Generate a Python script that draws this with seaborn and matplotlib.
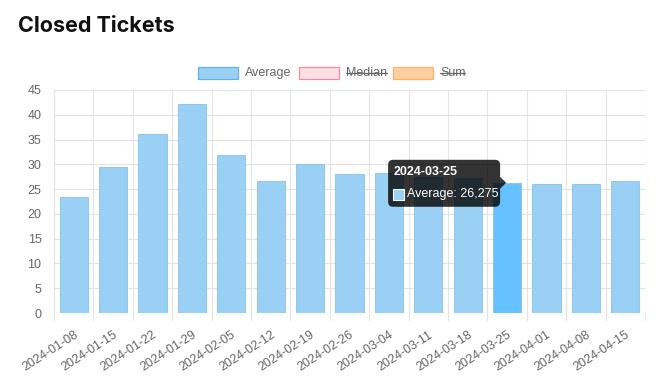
import matplotlib
matplotlib.use("Agg")
import matplotlib.pyplot as plt
import matplotlib.transforms as mtrans
from matplotlib.patches import Rectangle, FancyBboxPatch, Polygon
from matplotlib.lines import Line2D
import seaborn as sns

# data
weeks = ['2024-01-08', '2024-01-15', '2024-01-22', '2024-01-29', '2024-02-05',
         '2024-02-12', '2024-02-19', '2024-02-26', '2024-03-04', '2024-03-11',
         '2024-03-18', '2024-03-25', '2024-04-01', '2024-04-08', '2024-04-15']
average = [23.4, 29.4, 36.1, 42.1, 31.8, 26.6, 30.1, 28.0, 28.2, 27.4,
           27.3, 26.275, 26.0, 26.0, 26.6]
legend_labels = ['Average', 'Median', 'Sum']
legend_fill = ['#9bd0f5', '#ffe0e6', '#ffcf9f']
legend_edge = ['#5fb3ea', '#f38aa0', '#ffb366']
hidden = [False, True, True]
hover_week = '2024-03-25'

BAR = '#9bd0f5'
BAR_EDGE = '#86c2ec'
HOVER = '#66c2ff'
GRID = '#e3e3e3'
TXT = '#666666'

sns.set_style("white")
plt.rcParams['font.family'] = ['Liberation Sans', 'DejaVu Sans']

fig = plt.figure(figsize=(6.61, 3.89), dpi=100)
W, H = 661, 389
ax = fig.add_axes([54 / W, 1 - 313 / H, 591 / W, 223 / H])

colors = [HOVER if w == hover_week else BAR for w in weeks]
sns.barplot(x=weeks, y=average, hue=weeks, palette=colors, legend=False,
            width=0.72, edgecolor=BAR_EDGE, linewidth=0.6, saturation=1, ax=ax)

ax.set_xlim(-0.5, len(weeks) - 0.5)
ax.set_ylim(0, 45)
ax.set_yticks(range(0, 50, 5))
ax.set_xlabel('')
ax.set_ylabel('')

# chart.js style grid: vertical lines on category edges
for i in range(len(weeks) + 1):
    ax.axvline(i - 0.5, color=GRID, lw=0.8, zorder=0)
    ax.plot([i - 0.5, i - 0.5], [0, -0.03], color=GRID, lw=0.8,
            transform=ax.get_xaxis_transform(), clip_on=False)
for y in range(0, 50, 5):
    ax.axhline(y, color=GRID if y else '#c8c8c8', lw=0.8, zorder=0)
for s in ax.spines.values():
    s.set_visible(False)

ax.tick_params(axis='y', length=6, color=GRID, labelcolor=TXT, labelsize=9, pad=3)
ax.tick_params(axis='x', length=0, labelcolor=TXT, labelsize=9, pad=2)
ax.set_xticks(range(len(weeks)))
ax.set_xticklabels(weeks, rotation=33, ha='right', rotation_mode='anchor', va='top')
shift = mtrans.ScaledTranslation(0.0, -0.13, fig.dpi_scale_trans)
for lab in ax.get_xticklabels():
    lab.set_transform(lab.get_transform() + shift)

# title
fig.text(18 / W, 1 - 26 / H, 'Closed Tickets', fontsize=15.5, fontweight='bold',
         family=['Inter', 'DejaVu Sans'], color='#111111', va='center', ha='left')

# legend at top, hidden datasets struck through
fig.canvas.draw()
renderer = fig.canvas.get_renderer()
box_x = [198, 299, 393]
for lbl, fc, ec, hid, bx in zip(legend_labels, legend_fill, legend_edge, hidden, box_x):
    fig.patches.append(Rectangle((bx / W, 1 - 79 / H), 40 / W, 12 / H, facecolor=fc,
                                 edgecolor=ec, lw=0.9, transform=fig.transFigure))
    t = fig.text((bx + 47) / W, 1 - 73 / H, lbl, fontsize=9, color=TXT,
                 va='center', ha='left')
    if hid:
        bb = t.get_window_extent(renderer).transformed(fig.transFigure.inverted())
        ymid = (bb.y0 + bb.y1) / 2
        fig.lines.append(Line2D([bb.x0, bb.x1], [ymid, ymid], color=TXT, lw=0.9,
                                transform=fig.transFigure))

# hover tooltip, placed in pixels relative to the hovered bar's top
hi = weeks.index(hover_week)
hv = average[hi]
base = ax.transData.transform((hi, hv))
bx0 = base[0] - 119
by0 = base[1] - 24
fig.patches.append(FancyBboxPatch((bx0, by0), 112, 47, boxstyle='round,pad=0,rounding_size=5',
                                  facecolor='black', alpha=0.8, edgecolor='none',
                                  transform=None))
fig.patches.append(Polygon([[bx0 + 112, base[1] + 6], [bx0 + 112, base[1] - 6],
                            [bx0 + 118, base[1]]], closed=True, facecolor='black',
                           alpha=0.8, edgecolor='none', transform=None))
fig.text((bx0 + 6) / W, (by0 + 35) / H, hover_week, color='white', fontsize=9,
         fontweight='bold', va='center', ha='left', zorder=11)
fig.patches.append(Rectangle(((bx0 + 5) / W, (by0 + 7) / H), 11 / W, 11 / H,
                             facecolor=BAR, edgecolor='white', lw=0.8,
                             transform=fig.transFigure, zorder=11))
value_txt = f'{hv:.3f}'.replace('.', ',')
fig.text((bx0 + 19) / W, (by0 + 12.5) / H, f'Average: {value_txt}', color='white',
         fontsize=9.0, va='center', ha='left', zorder=11)

fig.savefig('out.png', dpi=100)
